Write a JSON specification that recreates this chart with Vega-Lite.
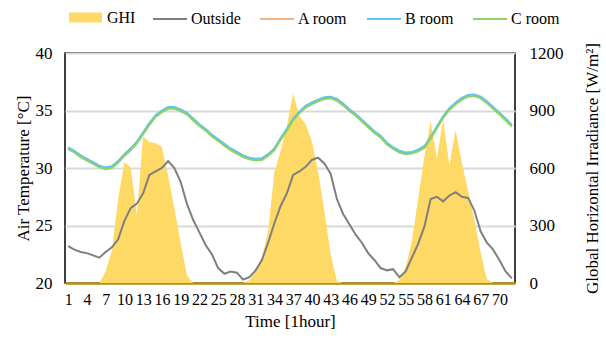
{
  "$schema": "https://vega.github.io/schema/vega-lite/v6.json",
  "width": 450,
  "height": 230,
  "autosize": {"type": "none"},
  "padding": {"left": 65, "top": 53, "right": 91, "bottom": 62},
  "config": {
    "font": "Liberation Serif",
    "view": {"stroke": "#000000", "strokeWidth": 1.5},
    "axis": {"labelFont": "Liberation Serif", "titleFont": "Liberation Serif", "labelFontSize": 17, "titleFontSize": 17, "titleFontWeight": "normal", "labelColor": "#000", "titleColor": "#000", "ticks": false},
    "legend": {"labelFont": "Liberation Serif", "labelFontSize": 16, "labelColor": "#000"}
  },
  "data": {"values": [
    {"h":1,"GHI":0,"Outside":23.2,"A room":31.73,"B room":31.8,"C room":31.65},
    {"h":2,"GHI":0,"Outside":22.9,"A room":31.43,"B room":31.5,"C room":31.35},
    {"h":3,"GHI":0,"Outside":22.7,"A room":31.03,"B room":31.1,"C room":30.95},
    {"h":4,"GHI":0,"Outside":22.6,"A room":30.73,"B room":30.8,"C room":30.65},
    {"h":5,"GHI":0,"Outside":22.4,"A room":30.43,"B room":30.5,"C room":30.35},
    {"h":6,"GHI":0,"Outside":22.2,"A room":30.13,"B room":30.2,"C room":30.05},
    {"h":7,"GHI":60,"Outside":22.7,"A room":29.98,"B room":30.05,"C room":29.9},
    {"h":8,"GHI":170,"Outside":23.1,"A room":30.08,"B room":30.15,"C room":30.0},
    {"h":9,"GHI":440,"Outside":23.8,"A room":30.53,"B room":30.6,"C room":30.45},
    {"h":10,"GHI":630,"Outside":25.4,"A room":31.13,"B room":31.2,"C room":31.05},
    {"h":11,"GHI":605,"Outside":26.5,"A room":31.63,"B room":31.7,"C room":31.55},
    {"h":12,"GHI":355,"Outside":26.9,"A room":32.23,"B room":32.3,"C room":32.15},
    {"h":13,"GHI":765,"Outside":27.8,"A room":33.03,"B room":33.1,"C room":32.95},
    {"h":14,"GHI":735,"Outside":29.4,"A room":33.83,"B room":33.9,"C room":33.75},
    {"h":15,"GHI":730,"Outside":29.7,"A room":34.53,"B room":34.6,"C room":34.45},
    {"h":16,"GHI":710,"Outside":30.0,"A room":34.93,"B room":35.0,"C room":34.85},
    {"h":17,"GHI":560,"Outside":30.6,"A room":35.23,"B room":35.3,"C room":35.15},
    {"h":18,"GHI":390,"Outside":30.0,"A room":35.23,"B room":35.3,"C room":35.15},
    {"h":19,"GHI":210,"Outside":28.8,"A room":35.03,"B room":35.1,"C room":34.95},
    {"h":20,"GHI":40,"Outside":26.9,"A room":34.73,"B room":34.8,"C room":34.65},
    {"h":21,"GHI":0,"Outside":25.5,"A room":34.23,"B room":34.3,"C room":34.15},
    {"h":22,"GHI":0,"Outside":24.4,"A room":33.73,"B room":33.8,"C room":33.65},
    {"h":23,"GHI":0,"Outside":23.3,"A room":33.33,"B room":33.4,"C room":33.25},
    {"h":24,"GHI":0,"Outside":22.5,"A room":32.83,"B room":32.9,"C room":32.75},
    {"h":25,"GHI":0,"Outside":21.3,"A room":32.43,"B room":32.5,"C room":32.35},
    {"h":26,"GHI":0,"Outside":20.8,"A room":32.03,"B room":32.1,"C room":31.95},
    {"h":27,"GHI":0,"Outside":21.0,"A room":31.63,"B room":31.7,"C room":31.55},
    {"h":28,"GHI":0,"Outside":20.9,"A room":31.33,"B room":31.4,"C room":31.25},
    {"h":29,"GHI":0,"Outside":20.3,"A room":31.03,"B room":31.1,"C room":30.95},
    {"h":30,"GHI":15,"Outside":20.5,"A room":30.83,"B room":30.9,"C room":30.75},
    {"h":31,"GHI":60,"Outside":21.1,"A room":30.73,"B room":30.8,"C room":30.65},
    {"h":32,"GHI":130,"Outside":22.0,"A room":30.78,"B room":30.85,"C room":30.7},
    {"h":33,"GHI":270,"Outside":23.5,"A room":31.13,"B room":31.2,"C room":31.05},
    {"h":34,"GHI":580,"Outside":25.2,"A room":31.63,"B room":31.7,"C room":31.55},
    {"h":35,"GHI":690,"Outside":26.7,"A room":32.53,"B room":32.6,"C room":32.45},
    {"h":36,"GHI":820,"Outside":27.8,"A room":33.33,"B room":33.4,"C room":33.25},
    {"h":37,"GHI":990,"Outside":29.4,"A room":34.23,"B room":34.3,"C room":34.15},
    {"h":38,"GHI":870,"Outside":29.7,"A room":34.83,"B room":34.9,"C room":34.75},
    {"h":39,"GHI":830,"Outside":30.1,"A room":35.33,"B room":35.4,"C room":35.25},
    {"h":40,"GHI":740,"Outside":30.7,"A room":35.63,"B room":35.7,"C room":35.55},
    {"h":41,"GHI":580,"Outside":30.9,"A room":35.88,"B room":35.95,"C room":35.8},
    {"h":42,"GHI":375,"Outside":30.4,"A room":36.08,"B room":36.15,"C room":36.0},
    {"h":43,"GHI":150,"Outside":29.5,"A room":36.13,"B room":36.2,"C room":36.05},
    {"h":44,"GHI":10,"Outside":27.3,"A room":35.93,"B room":36.0,"C room":35.85},
    {"h":45,"GHI":0,"Outside":26.0,"A room":35.53,"B room":35.6,"C room":35.45},
    {"h":46,"GHI":0,"Outside":25.1,"A room":35.03,"B room":35.1,"C room":34.95},
    {"h":47,"GHI":0,"Outside":24.2,"A room":34.63,"B room":34.7,"C room":34.55},
    {"h":48,"GHI":0,"Outside":23.5,"A room":34.13,"B room":34.2,"C room":34.05},
    {"h":49,"GHI":0,"Outside":22.6,"A room":33.63,"B room":33.7,"C room":33.55},
    {"h":50,"GHI":0,"Outside":22.0,"A room":33.13,"B room":33.2,"C room":33.05},
    {"h":51,"GHI":0,"Outside":21.3,"A room":32.73,"B room":32.8,"C room":32.65},
    {"h":52,"GHI":0,"Outside":21.1,"A room":32.13,"B room":32.2,"C room":32.05},
    {"h":53,"GHI":0,"Outside":21.2,"A room":31.73,"B room":31.8,"C room":31.65},
    {"h":54,"GHI":15,"Outside":20.5,"A room":31.43,"B room":31.5,"C room":31.35},
    {"h":55,"GHI":80,"Outside":21.0,"A room":31.28,"B room":31.35,"C room":31.2},
    {"h":56,"GHI":220,"Outside":22.2,"A room":31.33,"B room":31.4,"C room":31.25},
    {"h":57,"GHI":440,"Outside":23.4,"A room":31.53,"B room":31.6,"C room":31.45},
    {"h":58,"GHI":660,"Outside":24.9,"A room":31.83,"B room":31.9,"C room":31.75},
    {"h":59,"GHI":845,"Outside":27.3,"A room":32.63,"B room":32.7,"C room":32.55},
    {"h":60,"GHI":650,"Outside":27.5,"A room":33.53,"B room":33.6,"C room":33.45},
    {"h":61,"GHI":855,"Outside":27.1,"A room":34.43,"B room":34.5,"C room":34.35},
    {"h":62,"GHI":615,"Outside":27.6,"A room":35.13,"B room":35.2,"C room":35.05},
    {"h":63,"GHI":800,"Outside":27.9,"A room":35.63,"B room":35.7,"C room":35.55},
    {"h":64,"GHI":630,"Outside":27.5,"A room":36.03,"B room":36.1,"C room":35.95},
    {"h":65,"GHI":480,"Outside":27.4,"A room":36.28,"B room":36.35,"C room":36.2},
    {"h":66,"GHI":330,"Outside":26.3,"A room":36.33,"B room":36.4,"C room":36.25},
    {"h":67,"GHI":160,"Outside":24.5,"A room":36.13,"B room":36.2,"C room":36.05},
    {"h":68,"GHI":20,"Outside":23.5,"A room":35.73,"B room":35.8,"C room":35.65},
    {"h":69,"GHI":0,"Outside":22.9,"A room":35.23,"B room":35.3,"C room":35.15},
    {"h":70,"GHI":0,"Outside":22.0,"A room":34.73,"B room":34.8,"C room":34.65},
    {"h":71,"GHI":0,"Outside":21.0,"A room":34.23,"B room":34.3,"C room":34.15},
    {"h":72,"GHI":0,"Outside":20.4,"A room":33.68,"B room":33.75,"C room":33.6}
  ]},
  "encoding": {
    "x": {"field": "h", "type": "quantitative", "scale": {"domain": [0.5, 72.5], "nice": false, "zero": false},
      "axis": {"values": [1,4,7,10,13,16,19,22,25,28,31,34,37,40,43,46,49,52,55,58,61,64,67,70], "title": "Time [1hour]", "grid": false, "labelPadding": 8, "titlePadding": 6, "domainColor": "#B8900F", "domainWidth": 2.5, "labelFlush": false, "labelOverlap": false, "labelFont": "Liberation Serif", "labelFontSize": 16, "titleFont": "Liberation Serif"}}
  },
  "layer": [
    {
      "mark": {"type": "area", "opacity": 1, "interpolate": "linear"},
      "encoding": {
        "y": {"field": "GHI", "type": "quantitative", "scale": {"domain": [0, 1200], "nice": false},
          "axis": {"orient": "right", "values": [0,300,600,900,1200], "format": "d", "title": "Global Horizontal Irradiance [W/m²]", "grid": false, "domain": false, "labelPadding": 14, "titlePadding": 38, "titleAngle": 270, "titleBaseline": "bottom", "labelFont": "Liberation Serif", "titleFont": "Liberation Serif"}},
        "fill": {"datum": "GHI", "type": "nominal", "scale": {"domain": ["GHI"], "range": ["#FFD966"]},
          "legend": {"title": null, "orient": "top", "symbolType": "M-1,-0.3H1V0.3H-1Z", "symbolSize": 1089, "symbolStrokeWidth": 0, "offset": 22, "labelOffset": 5, "padding": 4}}
      }
    },
    {
      "transform": [{"fold": ["Outside", "A room", "B room", "C room"], "as": ["series", "temp"]}],
      "mark": {"type": "line", "strokeWidth": 2},
      "encoding": {
        "y": {"field": "temp", "type": "quantitative", "scale": {"domain": [20, 40], "nice": false, "zero": false},
          "axis": {"orient": "left", "values": [20,25,30,35,40], "title": "Air Temperature [°C]", "grid": true, "gridColor": "#D9D9D9", "gridWidth": 2, "domain": false, "labelPadding": 13, "titlePadding": 3, "labelFont": "Liberation Serif", "titleFont": "Liberation Serif"}},
        "stroke": {"field": "series", "type": "nominal", "scale": {"domain": ["Outside", "A room", "B room", "C room"], "range": ["#7F7F7F", "#F4B183", "#5BC4F0", "#8FD163"]},
          "legend": {"title": null, "orient": "top", "direction": "horizontal", "symbolType": "stroke", "symbolSize": 1156, "symbolStrokeWidth": 2, "offset": 22, "labelOffset": 3, "columnPadding": 15, "padding": 4}}
      }
    }
  ],
  "resolve": {"scale": {"y": "independent"}}
}
